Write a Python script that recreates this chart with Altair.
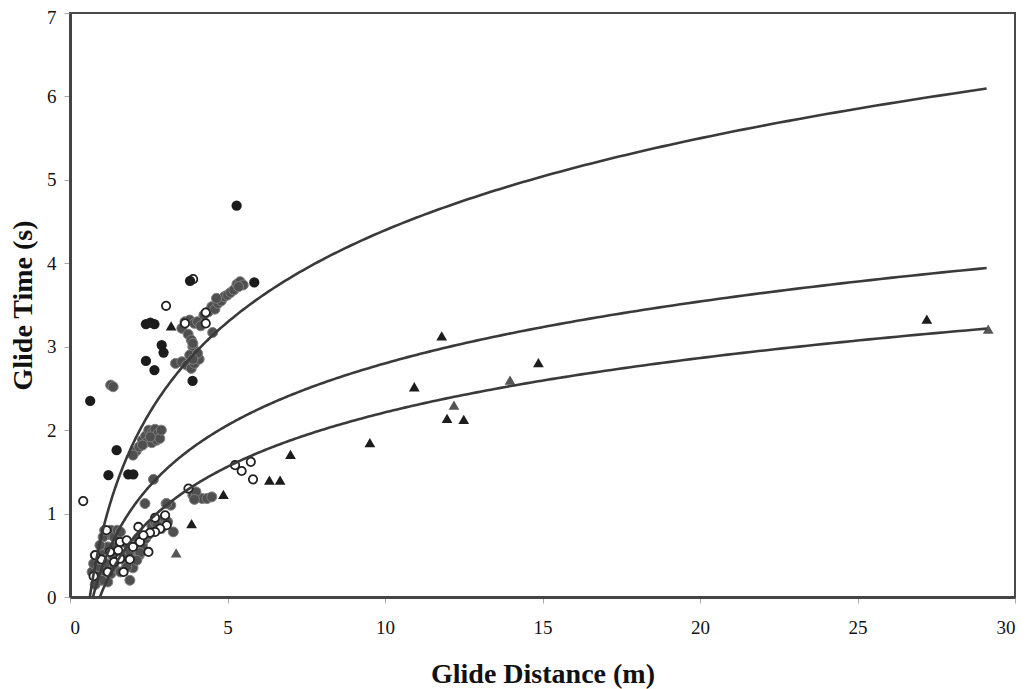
import altair as alt
import numpy as np
import pandas as pd

# ---- data ----
# dark filled circles
filled_x = [5.29, 3.81, 5.85, 2.41, 2.55, 2.68, 2.91, 2.97, 2.41, 2.68, 3.89, 0.64, 1.48, 1.22, 1.85, 2.01]
filled_y = [4.69, 3.79, 3.77, 3.27, 3.29, 3.27, 3.02, 2.93, 2.83, 2.72, 2.59, 2.35, 1.76, 1.46, 1.47, 1.47]

# grey filled circles
grey_x = [3.55, 3.65, 3.80, 3.95, 4.05, 4.15, 3.75, 3.85, 3.90, 3.95, 4.25, 4.40, 4.50, 4.60, 4.70, 4.80,
          4.90, 5.00, 5.10, 5.20, 5.30, 5.40, 5.50, 5.35, 4.65, 4.53, 3.90,
          3.35, 3.55, 3.70, 3.85, 3.95, 4.10, 3.80, 4.05, 3.90,
          1.29, 1.37,
          2.10, 2.20, 2.30, 2.40, 2.50, 2.60, 2.70, 2.80, 2.45, 2.60, 2.75, 2.85, 2.90, 2.55, 2.30, 2.00,
          2.65, 2.38, 3.05, 3.20,
          3.90, 4.05, 4.20, 4.35, 4.50, 4.00, 3.95,
          0.70, 0.75, 0.80, 0.90, 0.95, 1.00, 1.10, 1.15, 1.20, 1.25, 1.30, 1.40, 1.50, 1.60, 1.05, 1.10,
          0.85, 1.30, 1.40, 1.50, 1.70, 1.80, 1.90, 2.00, 2.10, 2.20, 2.30, 2.40, 2.50, 2.60, 2.70, 2.80,
          2.90, 3.00, 3.10, 3.28, 2.00, 1.60, 1.75, 2.15, 1.90, 1.20, 1.00, 0.80, 2.76, 2.22, 2.12, 1.80,
          3.07, 0.95, 1.35, 1.45]
grey_y = [3.22, 3.30, 3.32, 3.28, 3.30, 3.25, 3.15, 3.08, 3.00, 2.95, 3.38, 3.42, 3.48, 3.45, 3.52, 3.55,
          3.60, 3.62, 3.65, 3.68, 3.75, 3.78, 3.74, 3.72, 3.58, 3.17, 3.04,
          2.80, 2.82, 2.78, 2.74, 2.80, 2.85, 2.90, 2.92, 2.85,
          2.54, 2.52,
          1.75, 1.80, 1.88, 1.93, 2.00, 1.97, 2.01, 1.96, 1.86, 1.85, 1.88, 1.90, 2.00, 1.92, 1.82, 1.70,
          1.41, 1.12, 1.12, 1.10,
          1.22, 1.20, 1.18, 1.18, 1.20, 1.26, 1.17,
          0.30, 0.40, 0.50, 0.35, 0.45, 0.55, 0.30, 0.40, 0.60, 0.75, 0.80, 0.72, 0.80, 0.78, 0.72, 0.80,
          0.25, 0.28, 0.35, 0.45, 0.50, 0.40, 0.55, 0.60, 0.45, 0.50, 0.62, 0.70, 0.75, 0.85, 0.90, 0.88,
          0.82, 0.95, 0.90, 0.78, 0.35, 0.30, 0.65, 0.70, 0.20, 0.18, 0.20, 0.15, 0.86, 0.53, 0.44, 0.36,
          1.12, 0.62, 0.50, 0.60]

# open circles
open_x = [3.91, 3.05, 3.65, 4.31, 4.31, 0.42, 3.76, 5.24, 5.45, 5.74, 5.81, 3.02, 3.07, 2.86, 2.70, 2.54,
          2.49, 2.17, 1.16, 1.59, 1.53, 1.59, 1.80, 1.27, 2.22, 2.33, 1.40, 1.70, 1.00, 0.80, 0.75, 1.20,
          2.00, 1.90, 2.70]
open_y = [3.81, 3.49, 3.28, 3.28, 3.41, 1.15, 1.30, 1.58, 1.51, 1.62, 1.41, 0.98, 0.86, 0.82, 0.78, 0.77,
          0.54, 0.84, 0.80, 0.66, 0.56, 0.46, 0.68, 0.54, 0.66, 0.74, 0.42, 0.30, 0.45, 0.50, 0.25, 0.30,
          0.60, 0.45, 0.95]

# dark triangles
tri_x = [3.21, 4.87, 3.86, 7.00, 6.33, 6.67, 11.80, 10.93, 14.87, 11.97, 12.50, 9.52, 27.20]
tri_y = [3.25, 1.23, 0.88, 1.71, 1.40, 1.40, 3.13, 2.52, 2.81, 2.14, 2.13, 1.85, 3.33]

# grey triangles
trig_x = [13.97, 12.19, 29.15, 3.37]
trig_y = [2.60, 2.30, 3.21, 0.53]

# fitted logarithmic curves: y = a * ln(x / x0), drawn from x0 to x_end
curve_names = ["upper", "middle", "lower"]
curve_a = [1.59, 1.07, 0.94]
curve_x0 = [0.63, 0.73, 0.95]
curve_x_end = 29.1

x_ticks = [0, 5, 10, 15, 20, 25, 30]
y_ticks = [0, 1, 2, 3, 4, 5, 6, 7]

# ---- build tables ----
rows = []
for name, a, x0 in zip(curve_names, curve_a, curve_x0):
    xs = np.geomspace(x0, curve_x_end, 300)
    for xv in xs:
        rows.append({"curve": name, "x": float(xv), "y": float(a * np.log(xv / x0))})
curves = pd.DataFrame(rows)

df_filled = pd.DataFrame({"x": filled_x, "y": filled_y})
df_grey = pd.DataFrame({"x": grey_x, "y": grey_y})
df_open = pd.DataFrame({"x": open_x, "y": open_y})
df_tri = pd.DataFrame({"x": tri_x, "y": tri_y})
df_trig = pd.DataFrame({"x": trig_x, "y": trig_y})

FONT = "Liberation Serif"

xenc = alt.X("x:Q", scale=alt.Scale(domain=[0, 30], nice=False, zero=False),
             axis=alt.Axis(values=x_ticks, title="Glide Distance (m)", format="d"))
yenc = alt.Y("y:Q", scale=alt.Scale(domain=[0, 7], nice=False, zero=False),
             axis=alt.Axis(values=y_ticks, title="Glide Time (s)", format="d",
                           labelOffset={"condition": {"test": "datum.value == 7", "value": 4}, "value": 0}))

grey_layer = alt.Chart(df_grey).mark_point(
    shape="circle", filled=True, size=100, color="#4f4f4f", stroke="#808080", strokeWidth=1, opacity=1
).encode(x=xenc, y=yenc)

filled_layer = alt.Chart(df_filled).mark_point(
    shape="circle", filled=True, size=105, color="#1c1c1c", opacity=1
).encode(x=xenc, y=yenc)

open_layer = alt.Chart(df_open).mark_point(
    shape="circle", filled=False, size=70, color="#222222", fill="white", fillOpacity=1,
    strokeWidth=1.8, opacity=1
).encode(x=xenc, y=yenc)

tri_layer = alt.Chart(df_tri).mark_point(
    shape="triangle-up", filled=True, size=115, color="#1c1c1c", opacity=1
).encode(x=xenc, y=yenc)

trig_layer = alt.Chart(df_trig).mark_point(
    shape="triangle-up", filled=True, size=115, color="#555555", opacity=1
).encode(x=xenc, y=yenc)

curve_layer = alt.Chart(curves).mark_line(
    color="#3a3a3a", strokeWidth=2.6, clip=True
).encode(x=xenc, y=yenc, detail="curve:N", order="x:Q")

chart = alt.layer(
    grey_layer, open_layer, filled_layer, trig_layer, tri_layer, curve_layer
).properties(
    width=945, height=584,
    autosize=alt.AutoSizeParams(type="none"),
    padding={"left": 62, "top": 5, "right": 6, "bottom": 92},
    background="white",
).configure_view(
    stroke="#4a4a4a", strokeWidth=2
).configure_axis(
    grid=False,
    labelFont=FONT, titleFont=FONT,
    labelFontSize=19, labelColor="#111111",
    titleFontSize=28, titleFontWeight="bold", titleColor="#111111",
    domainColor="#444444", domainWidth=3,
    tickColor="#aaaaaa", tickSize=6, tickWidth=1,
).configure_axisX(
    labelPadding=15, titlePadding=23
).configure_axisY(
    labelPadding=8, titlePadding=9
)

chart.save("out.html", embed_options={"renderer": "svg", "actions": False})
